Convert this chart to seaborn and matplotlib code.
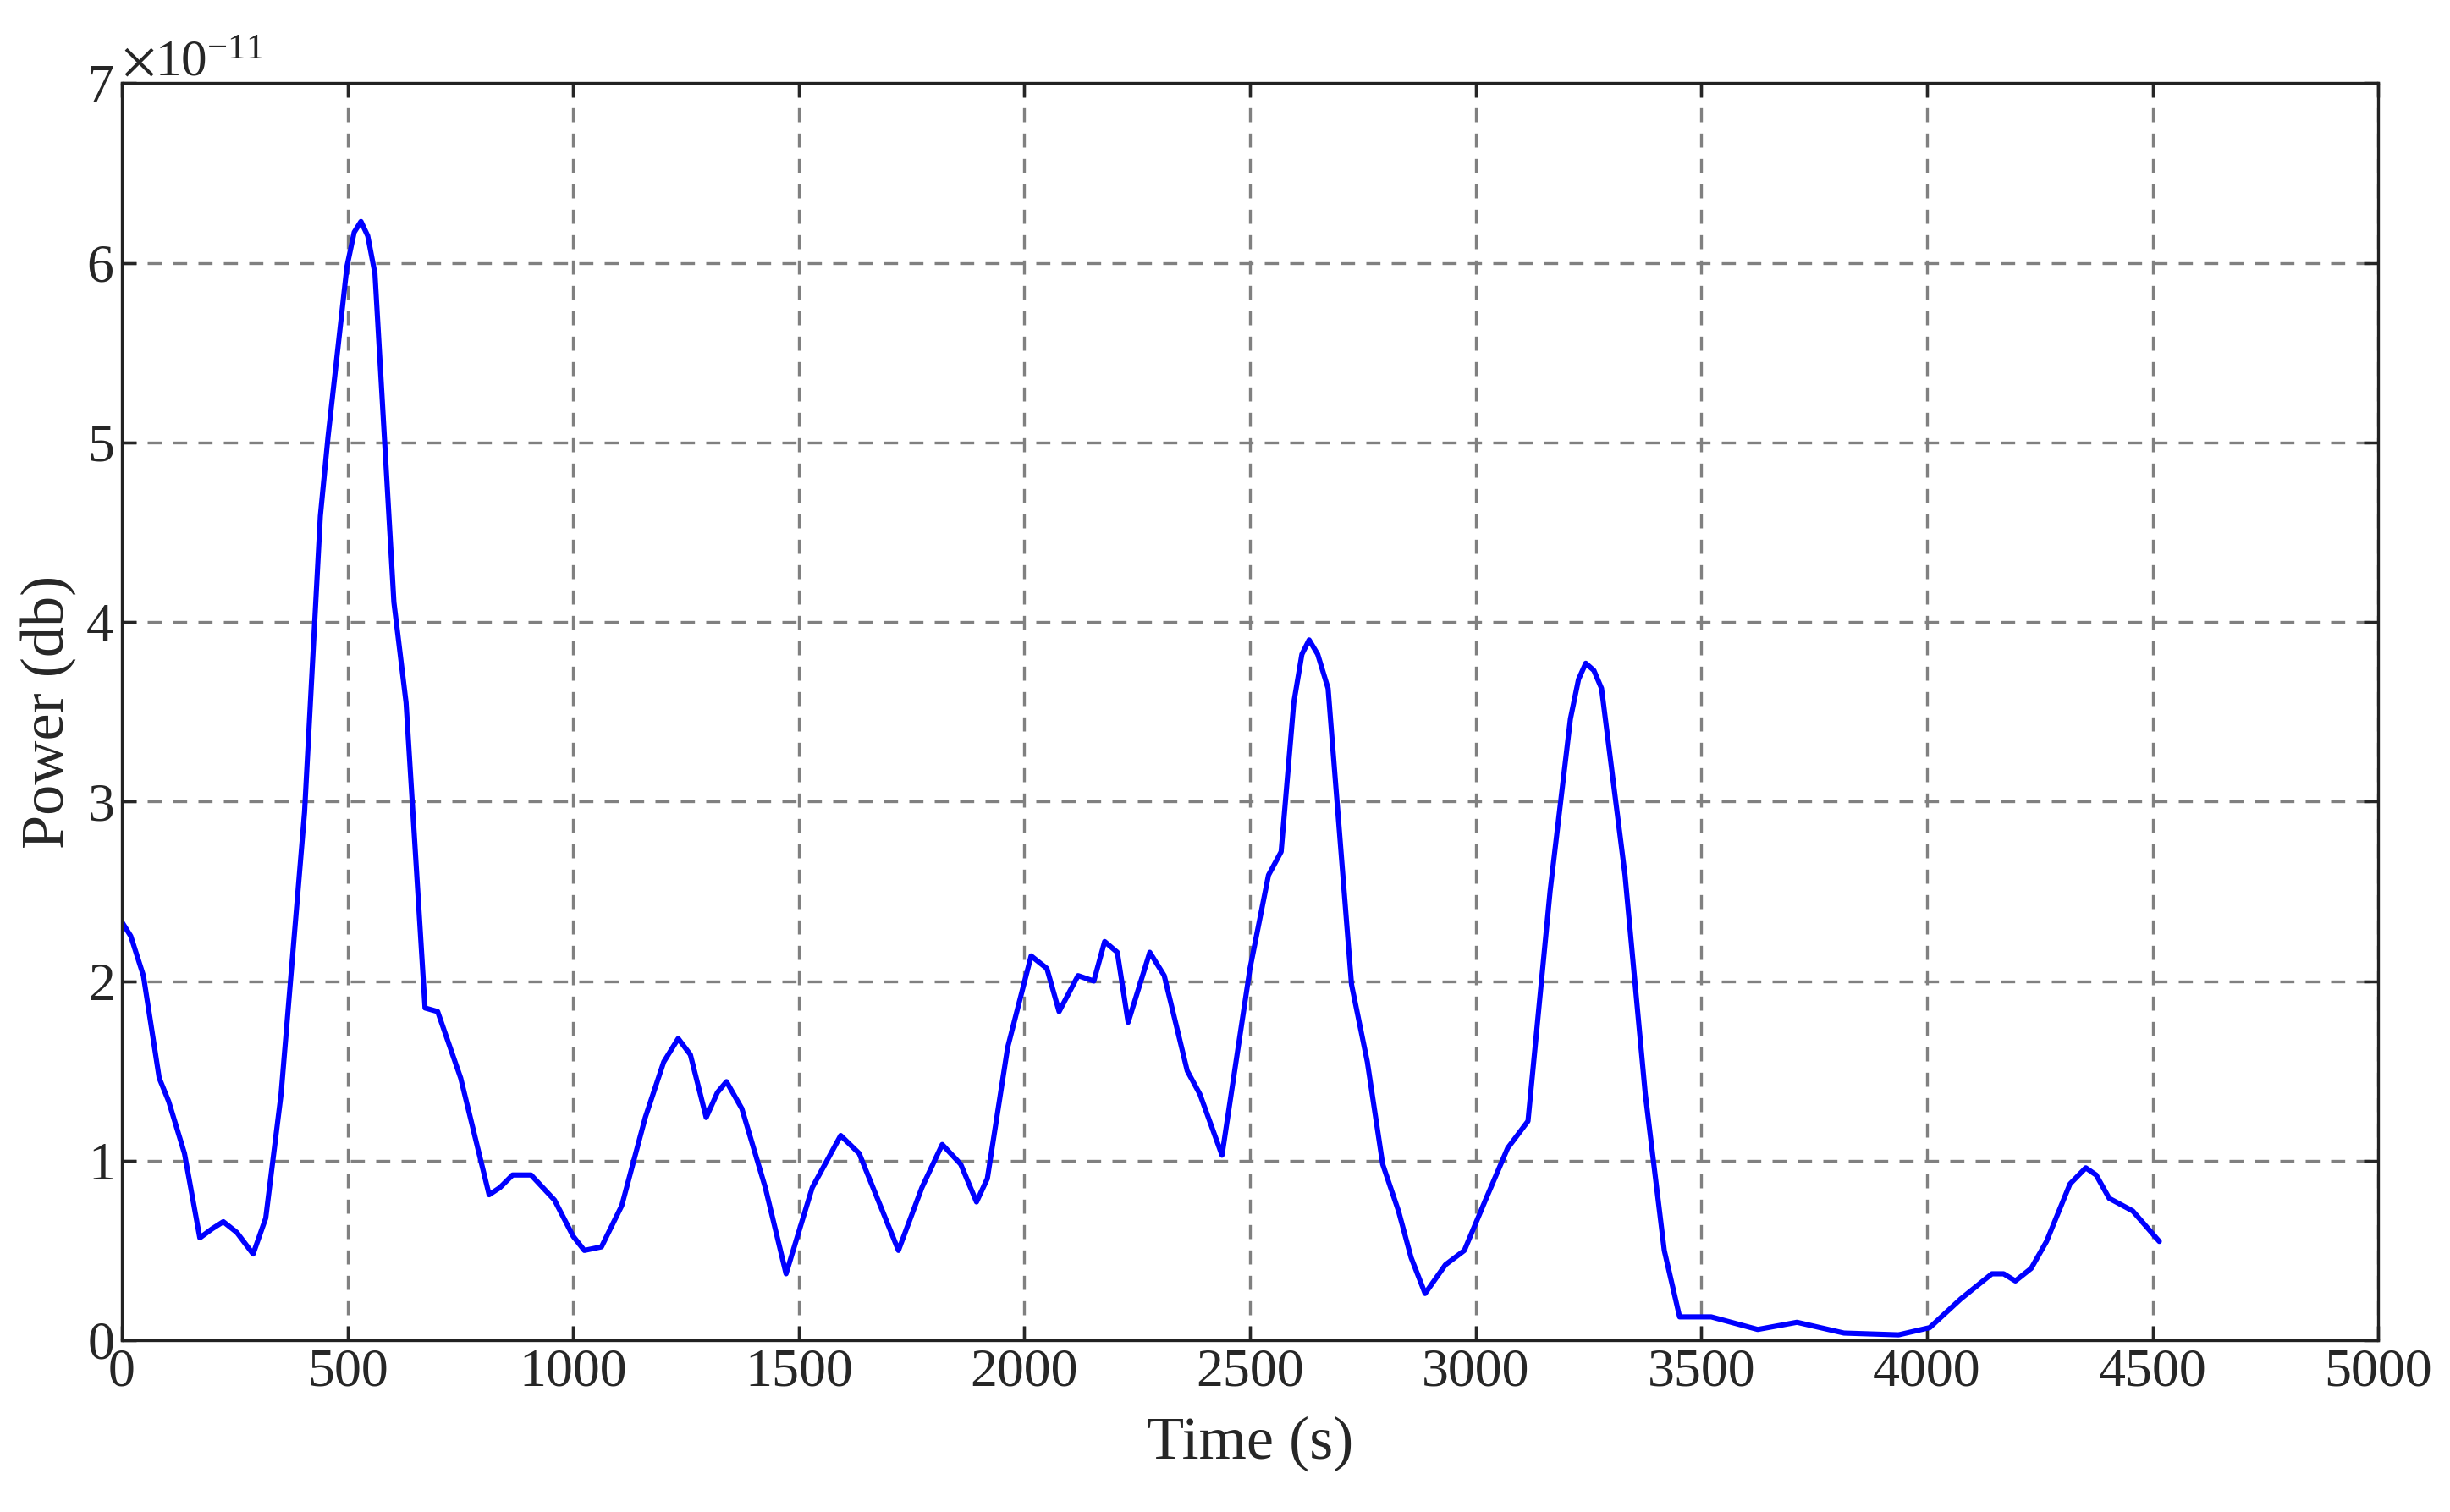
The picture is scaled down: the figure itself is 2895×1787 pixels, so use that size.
import matplotlib
matplotlib.use("Agg")
import matplotlib.pyplot as plt
import matplotlib.ticker as mticker
import numpy as np
import seaborn as sns

# values (time in s, power in units of 1e-11)
time_s = [0, 20, 48, 83, 104, 139, 173, 200, 225, 255, 291, 319, 353, 405, 440,
          457, 499, 515, 530, 545, 561, 603, 630, 672, 700, 751, 814, 838, 866,
          907, 959, 1000, 1025, 1063, 1108, 1160, 1201, 1233, 1260, 1295, 1320,
          1340, 1374, 1426, 1472, 1530, 1593, 1634, 1721, 1773, 1818, 1859, 1894,
          1918, 1963, 2015, 2050, 2077, 2119, 2154, 2178, 2206, 2230, 2278, 2310,
          2361, 2389, 2438, 2500, 2541, 2569, 2597, 2615, 2631, 2650, 2673, 2725,
          2760, 2794, 2829, 2857, 2888, 2933, 2975, 3020, 3071, 3116, 3165, 3210,
          3228, 3244, 3262, 3279, 3331, 3376, 3418, 3452, 3522, 3625, 3712, 3816,
          3937, 4006, 4075, 4144, 4170, 4196, 4231, 4265, 4317, 4352, 4375, 4404,
          4456, 4515]
power_e11 = [2.33, 2.25, 2.03, 1.46, 1.33, 1.04, 0.57, 0.62, 0.66, 0.60, 0.48,
             0.68, 1.37, 2.94, 4.59, 5.03, 5.98, 6.17, 6.23, 6.15, 5.94, 4.11, 3.55,
             1.85, 1.83, 1.46, 0.81, 0.85, 0.92, 0.92, 0.78, 0.58, 0.50, 0.52, 0.75,
             1.24, 1.55, 1.68, 1.59, 1.24, 1.38, 1.44, 1.29, 0.85, 0.37, 0.85, 1.14,
             1.04, 0.50, 0.85, 1.09, 0.98, 0.77, 0.90, 1.63, 2.14, 2.07, 1.83, 2.03,
             2.00, 2.22, 2.16, 1.77, 2.16, 2.03, 1.50, 1.37, 1.03, 2.07, 2.59, 2.72,
             3.55, 3.82, 3.90, 3.82, 3.63, 1.98, 1.55, 0.98, 0.72, 0.46, 0.26, 0.42,
             0.50, 0.77, 1.07, 1.22, 2.50, 3.46, 3.68, 3.77, 3.73, 3.63, 2.59, 1.37,
             0.50, 0.13, 0.13, 0.06, 0.10, 0.04, 0.03, 0.07, 0.23, 0.37, 0.37, 0.33,
             0.40, 0.55, 0.87, 0.96, 0.92, 0.79, 0.72, 0.55]
power = np.array(power_e11) * 1e-11

sns.set_theme(style="ticks")
plt.rcParams["font.family"] = ["Liberation Serif", "DejaVu Serif"]
plt.rcParams["mathtext.fontset"] = "stix"

fig = plt.figure(figsize=(14.475, 8.935), dpi=200)
ax = fig.add_axes([0.0497, 0.1136, 0.921, 0.8314])
sns.lineplot(x=time_s, y=power, ax=ax, color="#0000ff", linewidth=2.2)

ax.set_xlim(0, 5000)
ax.set_ylim(0, 7e-11)
ax.set_xticks(np.arange(0, 5001, 500))
ax.set_yticks(np.arange(0, 7.01e-11, 1e-11))
fmt = mticker.ScalarFormatter(useMathText=True)
fmt.set_powerlimits((0, 0))
ax.yaxis.set_major_formatter(fmt)
ax.yaxis.get_offset_text().set_fontsize(22)

ax.grid(True, linestyle=(0, (5, 4)), color="#808080", linewidth=1.2)
ax.tick_params(direction="in", top=True, right=True, labelsize=23, length=6)
for s in ax.spines.values():
    s.set_linewidth(1.2)
    s.set_color("#222222")
ax.set_xlabel("Time (s)", fontsize=26, labelpad=8)
ax.set_ylabel("Power (db)", fontsize=26, labelpad=4)

fig.savefig("out.png", dpi=200)
